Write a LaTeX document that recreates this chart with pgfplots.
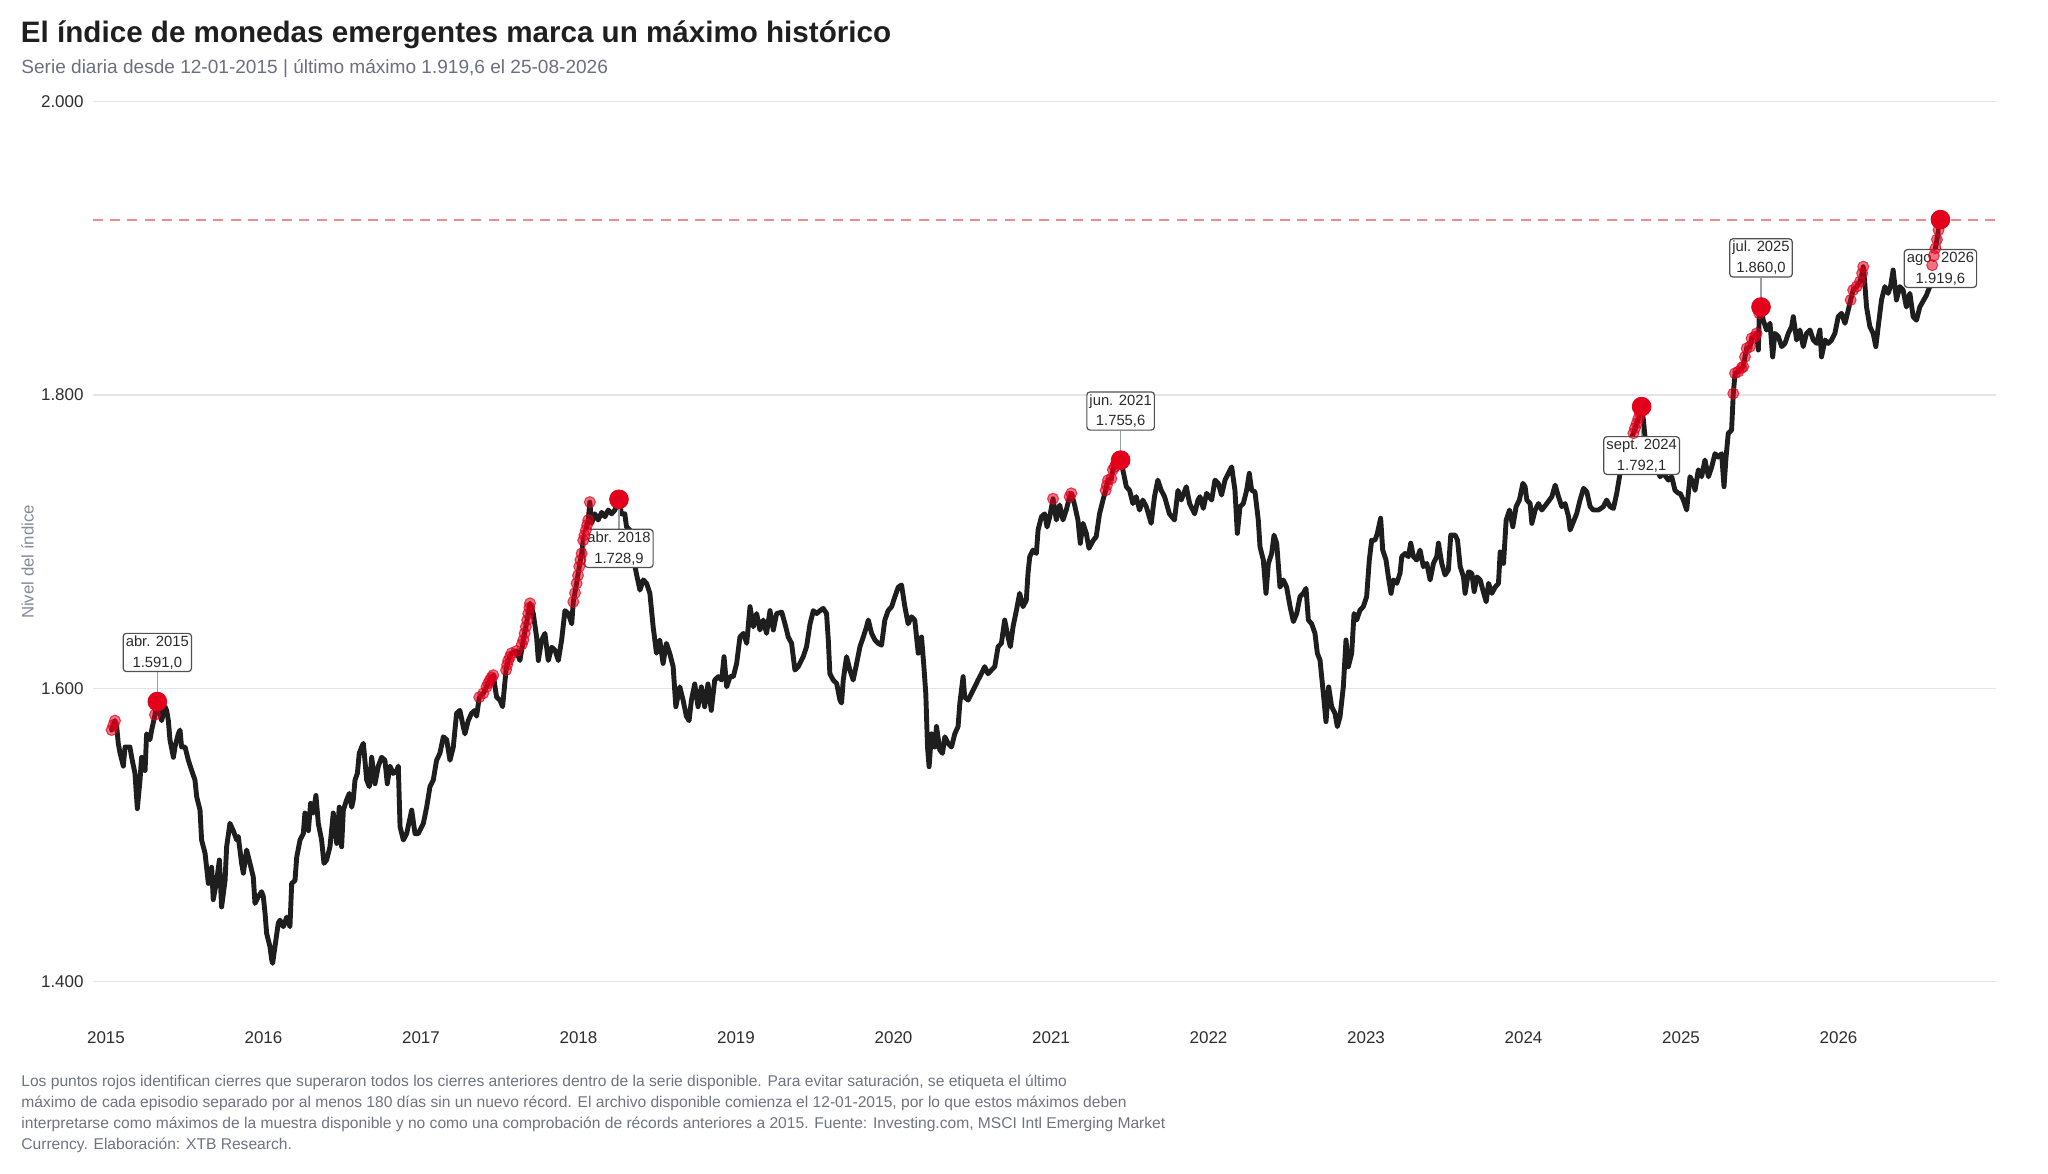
\documentclass[border=0pt]{standalone}
\usepackage{fontspec}
\setmainfont{Liberation Sans}
\usepackage{pgfplots}
\usepackage{pgfplotstable}
\pgfplotsset{compat=1.18}
\definecolor{linec}{HTML}{1E1E1E}
\definecolor{redc}{HTML}{E2001A}
\definecolor{dashc}{HTML}{F08A92}
\definecolor{gridc}{HTML}{E4E5EA}
\definecolor{titlec}{HTML}{1F1F1F}
\definecolor{subc}{HTML}{6B7080}
\definecolor{capc}{HTML}{6E7380}
\definecolor{ylabc}{HTML}{858A96}
\definecolor{tickc}{HTML}{2E2E2E}
\definecolor{boxc}{HTML}{505050}
\definecolor{connc}{HTML}{9A9EA6}
\definecolor{labc}{HTML}{2A2A2A}

\pgfplotstableread{
x y
2015.036 1571.6
2015.047 1575.0
2015.057 1578.0
2015.068 1574.0
2015.078 1562.5
2015.089 1556.0
2015.110 1547.0
2015.121 1560.0
2015.152 1560.0
2015.163 1553.0
2015.184 1542.0
2015.199 1518.0
2015.216 1537.5
2015.226 1553.0
2015.248 1544.0
2015.258 1569.0
2015.279 1565.0
2015.290 1571.6
2015.311 1582.0
2015.326 1591.0
2015.353 1578.0
2015.375 1587.5
2015.385 1585.0
2015.396 1578.0
2015.406 1565.0
2015.428 1553.0
2015.438 1560.0
2015.459 1569.0
2015.470 1571.6
2015.480 1560.0
2015.502 1560.0
2015.523 1551.0
2015.544 1544.0
2015.565 1537.5
2015.576 1526.0
2015.597 1517.0
2015.607 1496.6
2015.629 1487.5
2015.650 1467.0
2015.671 1478.0
2015.681 1456.0
2015.703 1469.0
2015.720 1483.0
2015.734 1451.0
2015.756 1469.0
2015.766 1492.0
2015.787 1508.0
2015.808 1503.0
2015.830 1496.6
2015.840 1499.0
2015.861 1480.7
2015.872 1474.0
2015.893 1489.8
2015.914 1480.7
2015.935 1471.6
2015.946 1453.4
2015.967 1458.0
2015.988 1461.4
2015.999 1458.0
2016.010 1446.6
2016.020 1433.0
2016.041 1424.0
2016.052 1415.0
2016.058 1412.5
2016.073 1424.0
2016.094 1440.0
2016.105 1442.0
2016.126 1437.5
2016.147 1444.0
2016.168 1437.5
2016.179 1467.0
2016.200 1469.0
2016.211 1485.0
2016.232 1496.6
2016.253 1501.0
2016.263 1515.0
2016.285 1503.0
2016.299 1521.6
2016.316 1515.0
2016.333 1527.0
2016.348 1508.0
2016.369 1496.6
2016.384 1480.7
2016.401 1483.0
2016.422 1492.0
2016.443 1515.0
2016.465 1494.3
2016.481 1519.0
2016.496 1492.0
2016.507 1517.0
2016.528 1524.0
2016.545 1528.4
2016.560 1519.0
2016.570 1524.0
2016.581 1537.5
2016.596 1542.0
2016.608 1555.7
2016.623 1560.0
2016.634 1562.5
2016.644 1551.0
2016.655 1537.5
2016.672 1533.0
2016.687 1553.0
2016.708 1535.0
2016.729 1547.0
2016.750 1553.0
2016.771 1551.0
2016.786 1535.0
2016.803 1547.0
2016.824 1542.0
2016.846 1544.0
2016.856 1547.0
2016.867 1505.7
2016.888 1496.6
2016.909 1501.0
2016.941 1517.0
2016.962 1501.0
2016.983 1501.0
2017.015 1508.0
2017.036 1519.0
2017.057 1533.0
2017.078 1537.5
2017.099 1551.0
2017.120 1555.7
2017.142 1567.0
2017.163 1565.0
2017.184 1551.0
2017.205 1560.0
2017.226 1583.0
2017.247 1585.0
2017.268 1574.0
2017.279 1569.0
2017.300 1578.0
2017.321 1583.0
2017.342 1585.0
2017.353 1581.0
2017.370 1594.0
2017.395 1596.6
2017.416 1601.0
2017.438 1605.7
2017.459 1609.0
2017.480 1594.0
2017.501 1592.0
2017.518 1587.5
2017.540 1612.5
2017.554 1619.0
2017.575 1624.0
2017.607 1625.5
2017.628 1619.0
2017.650 1633.0
2017.666 1642.0
2017.681 1651.0
2017.692 1658.0
2017.713 1651.0
2017.734 1635.0
2017.745 1619.0
2017.766 1633.0
2017.787 1637.5
2017.808 1619.0
2017.830 1628.0
2017.851 1626.0
2017.872 1619.0
2017.893 1633.0
2017.914 1653.0
2017.935 1651.0
2017.957 1644.0
2017.967 1659.0
2017.988 1671.6
2018.005 1683.0
2018.020 1692.0
2018.030 1701.0
2018.047 1708.0
2018.062 1714.8
2018.072 1727.0
2018.083 1712.5
2018.104 1719.0
2018.125 1714.8
2018.147 1720.0
2018.168 1717.0
2018.189 1721.6
2018.210 1719.0
2018.231 1721.6
2018.257 1728.9
2018.273 1719.0
2018.294 1719.0
2018.305 1710.0
2018.326 1708.0
2018.347 1690.0
2018.368 1678.0
2018.390 1667.0
2018.411 1674.0
2018.432 1671.6
2018.453 1665.0
2018.474 1642.0
2018.495 1624.0
2018.516 1633.0
2018.537 1617.0
2018.558 1630.7
2018.579 1624.0
2018.601 1614.8
2018.618 1587.5
2018.643 1601.0
2018.664 1592.0
2018.685 1581.0
2018.702 1578.0
2018.717 1592.0
2018.738 1603.0
2018.759 1587.5
2018.780 1601.0
2018.801 1587.5
2018.822 1603.0
2018.843 1585.0
2018.865 1605.7
2018.888 1608.0
2018.909 1605.7
2018.924 1621.6
2018.941 1601.0
2018.962 1608.0
2018.983 1608.0
2019.004 1617.0
2019.025 1635.0
2019.047 1637.5
2019.068 1630.7
2019.089 1655.7
2019.110 1642.0
2019.131 1651.0
2019.152 1639.8
2019.173 1646.6
2019.194 1637.5
2019.216 1653.0
2019.237 1639.8
2019.258 1651.0
2019.290 1652.0
2019.311 1644.0
2019.332 1635.0
2019.353 1630.7
2019.374 1612.5
2019.395 1614.8
2019.427 1621.6
2019.448 1628.4
2019.470 1644.0
2019.491 1653.0
2019.512 1651.0
2019.533 1653.0
2019.554 1654.5
2019.575 1651.0
2019.586 1633.0
2019.596 1610.0
2019.617 1605.7
2019.639 1603.4
2019.660 1592.0
2019.670 1590.0
2019.681 1605.7
2019.702 1621.6
2019.723 1612.5
2019.744 1605.7
2019.766 1617.0
2019.787 1628.4
2019.808 1635.0
2019.829 1642.0
2019.840 1646.6
2019.861 1637.5
2019.882 1633.0
2019.903 1630.7
2019.924 1629.5
2019.945 1646.6
2019.966 1653.0
2019.988 1655.7
2020.009 1662.5
2020.030 1669.0
2020.051 1670.5
2020.072 1655.7
2020.093 1644.0
2020.114 1648.8
2020.135 1646.6
2020.157 1624.0
2020.178 1635.0
2020.193 1614.8
2020.205 1596.6
2020.216 1560.0
2020.226 1546.6
2020.241 1569.0
2020.262 1560.0
2020.273 1574.0
2020.294 1558.0
2020.311 1555.7
2020.326 1567.0
2020.347 1562.5
2020.368 1560.0
2020.389 1569.0
2020.410 1574.0
2020.421 1589.8
2020.442 1608.0
2020.452 1594.0
2020.474 1592.0
2020.495 1596.6
2020.516 1601.0
2020.537 1605.7
2020.558 1610.0
2020.579 1614.8
2020.600 1610.0
2020.622 1612.5
2020.643 1614.8
2020.664 1628.4
2020.685 1630.7
2020.706 1646.6
2020.727 1635.0
2020.742 1628.4
2020.759 1642.0
2020.780 1653.0
2020.801 1664.8
2020.822 1655.7
2020.843 1660.0
2020.854 1678.4
2020.865 1689.8
2020.886 1694.3
2020.907 1692.0
2020.918 1708.0
2020.939 1717.0
2020.960 1719.0
2020.975 1710.0
2020.992 1717.0
2021.013 1729.3
2021.034 1714.8
2021.055 1725.0
2021.076 1714.8
2021.097 1721.6
2021.118 1730.7
2021.129 1733.0
2021.150 1725.0
2021.171 1714.8
2021.186 1698.9
2021.203 1712.5
2021.224 1705.7
2021.241 1695.5
2021.269 1701.0
2021.287 1703.4
2021.308 1719.0
2021.330 1728.4
2021.347 1735.0
2021.362 1742.0
2021.383 1743.0
2021.393 1749.0
2021.414 1753.4
2021.442 1755.6
2021.461 1746.6
2021.478 1737.5
2021.499 1735.0
2021.520 1726.0
2021.541 1730.7
2021.562 1721.6
2021.583 1728.4
2021.605 1723.9
2021.636 1712.5
2021.657 1730.7
2021.678 1742.0
2021.700 1735.0
2021.721 1730.7
2021.752 1719.0
2021.784 1714.8
2021.806 1735.0
2021.827 1728.4
2021.859 1737.5
2021.880 1726.0
2021.912 1719.0
2021.933 1728.4
2021.946 1730.7
2021.967 1722.7
2021.988 1733.0
2022.020 1728.4
2022.041 1742.0
2022.062 1739.8
2022.083 1731.8
2022.105 1742.0
2022.126 1746.6
2022.147 1751.0
2022.168 1735.0
2022.183 1705.7
2022.200 1723.9
2022.221 1726.0
2022.242 1735.0
2022.259 1746.6
2022.274 1735.0
2022.295 1734.0
2022.316 1714.8
2022.327 1696.6
2022.348 1687.5
2022.365 1664.8
2022.380 1685.0
2022.401 1692.0
2022.416 1704.5
2022.433 1699.0
2022.454 1669.0
2022.475 1673.9
2022.496 1669.0
2022.518 1655.7
2022.539 1645.5
2022.560 1651.0
2022.581 1662.5
2022.602 1664.8
2022.619 1668.2
2022.634 1646.6
2022.655 1644.0
2022.676 1637.5
2022.691 1623.9
2022.708 1619.3
2022.729 1596.6
2022.746 1577.3
2022.763 1601.0
2022.782 1587.5
2022.803 1583.0
2022.818 1573.9
2022.835 1580.7
2022.856 1601.0
2022.873 1633.0
2022.888 1614.8
2022.909 1623.9
2022.924 1651.0
2022.941 1646.6
2022.962 1653.4
2022.983 1655.7
2023.004 1662.5
2023.021 1687.5
2023.036 1701.0
2023.057 1701.0
2023.072 1705.7
2023.093 1716.0
2023.106 1694.3
2023.127 1687.5
2023.142 1676.0
2023.159 1664.8
2023.174 1673.9
2023.195 1671.6
2023.216 1678.4
2023.227 1689.8
2023.248 1692.0
2023.269 1689.8
2023.284 1699.0
2023.301 1689.8
2023.322 1687.5
2023.343 1694.3
2023.364 1683.0
2023.386 1685.2
2023.407 1673.9
2023.428 1685.2
2023.449 1689.8
2023.460 1699.0
2023.481 1685.2
2023.502 1677.3
2023.523 1680.7
2023.538 1704.5
2023.566 1704.5
2023.581 1701.0
2023.598 1683.0
2023.619 1676.0
2023.629 1664.8
2023.651 1679.5
2023.672 1678.4
2023.687 1666.0
2023.704 1676.0
2023.725 1673.9
2023.742 1667.0
2023.763 1659.0
2023.778 1671.6
2023.799 1664.8
2023.820 1669.0
2023.841 1671.6
2023.852 1693.0
2023.873 1685.2
2023.890 1714.8
2023.911 1721.6
2023.932 1710.2
2023.953 1723.9
2023.974 1728.4
2023.996 1739.8
2024.010 1737.5
2024.021 1728.4
2024.042 1726.0
2024.053 1712.5
2024.074 1721.6
2024.095 1726.0
2024.116 1721.6
2024.148 1726.0
2024.180 1730.7
2024.201 1738.6
2024.222 1730.7
2024.243 1723.9
2024.264 1726.0
2024.286 1717.0
2024.296 1708.0
2024.317 1713.6
2024.338 1719.3
2024.359 1728.4
2024.381 1736.4
2024.402 1734.0
2024.423 1723.9
2024.444 1721.6
2024.476 1721.6
2024.507 1723.9
2024.528 1728.4
2024.549 1723.9
2024.571 1722.7
2024.592 1733.0
2024.613 1746.6
2024.634 1755.7
2024.666 1764.8
2024.698 1774.0
2024.719 1780.7
2024.740 1787.5
2024.750 1792.1
2024.761 1783.0
2024.782 1760.0
2024.803 1753.4
2024.835 1753.4
2024.867 1744.3
2024.888 1746.6
2024.920 1742.0
2024.941 1744.3
2024.962 1735.0
2024.983 1733.0
2024.994 1733.0
2025.015 1728.4
2025.036 1721.6
2025.057 1744.3
2025.079 1739.8
2025.089 1735.0
2025.110 1749.0
2025.131 1744.3
2025.152 1755.7
2025.174 1744.3
2025.195 1751.0
2025.216 1760.0
2025.237 1757.7
2025.258 1760.0
2025.273 1737.5
2025.286 1757.7
2025.300 1773.9
2025.321 1776.0
2025.332 1801.0
2025.343 1814.8
2025.364 1816.0
2025.385 1818.5
2025.395 1819.3
2025.406 1826.0
2025.417 1831.8
2025.438 1833.0
2025.448 1838.6
2025.470 1839.8
2025.480 1842.0
2025.491 1830.7
2025.497 1855.7
2025.508 1860.0
2025.522 1851.0
2025.543 1844.3
2025.565 1848.9
2025.582 1826.0
2025.596 1842.0
2025.618 1839.8
2025.639 1833.0
2025.660 1835.2
2025.681 1842.0
2025.702 1846.6
2025.713 1853.4
2025.734 1837.5
2025.755 1844.3
2025.776 1833.0
2025.797 1842.0
2025.819 1844.3
2025.840 1837.5
2025.861 1835.2
2025.882 1844.3
2025.892 1826.0
2025.914 1837.5
2025.935 1835.2
2025.956 1837.5
2025.977 1842.0
2025.998 1853.4
2026.019 1855.7
2026.041 1848.9
2026.062 1858.0
2026.077 1864.8
2026.093 1871.6
2026.115 1873.9
2026.136 1877.3
2026.150 1883.0
2026.157 1887.5
2026.167 1876.0
2026.178 1860.0
2026.199 1846.6
2026.220 1842.0
2026.237 1833.0
2026.252 1846.6
2026.273 1864.8
2026.294 1873.9
2026.315 1869.3
2026.330 1873.9
2026.347 1885.2
2026.368 1864.8
2026.389 1873.9
2026.410 1871.6
2026.431 1860.0
2026.453 1869.3
2026.474 1853.4
2026.495 1851.0
2026.516 1860.0
2026.537 1864.0
2026.558 1868.0
2026.579 1873.8
2026.595 1888.5
2026.605 1895.0
2026.615 1900.0
2026.625 1906.0
2026.635 1912.5
2026.647 1919.6
}\mainline

\pgfplotstableread{
x y
2015.036 1571.6
2015.047 1575.0
2015.057 1578.0
2015.311 1582.0
2017.370 1594.0
2017.395 1596.6
2017.416 1601.0
2017.427 1603.5
2017.438 1605.7
2017.448 1607.5
2017.459 1609.0
2017.540 1612.5
2017.547 1616.0
2017.554 1619.0
2017.565 1621.5
2017.575 1624.0
2017.607 1625.5
2017.640 1630.0
2017.650 1633.0
2017.658 1637.5
2017.666 1642.0
2017.674 1646.5
2017.681 1651.0
2017.688 1655.0
2017.692 1658.0
2017.967 1659.0
2017.978 1665.0
2017.988 1671.6
2017.997 1677.0
2018.005 1683.0
2018.012 1687.5
2018.020 1692.0
2018.030 1701.0
2018.038 1704.5
2018.047 1708.0
2018.055 1711.5
2018.062 1714.8
2018.072 1727.0
2021.013 1729.3
2021.118 1730.7
2021.129 1733.0
2021.347 1735.0
2021.355 1738.5
2021.362 1742.0
2021.383 1743.0
2021.393 1749.0
2021.404 1751.0
2021.414 1753.4
2024.698 1774.0
2024.708 1777.5
2024.719 1780.7
2024.729 1784.0
2024.740 1787.5
2025.332 1801.0
2025.343 1814.8
2025.364 1816.0
2025.385 1818.5
2025.395 1819.3
2025.406 1826.0
2025.417 1831.8
2025.438 1833.0
2025.448 1838.6
2025.470 1839.8
2025.480 1842.0
2025.497 1855.7
2026.077 1864.8
2026.093 1871.6
2026.115 1873.9
2026.136 1877.3
2026.150 1883.0
2026.157 1887.5
2026.595 1888.5
2026.605 1895.0
2026.615 1900.0
2026.625 1906.0
2026.635 1912.5
}\records

\pgfplotstableread{
x y
2015.326 1591.0
2018.257 1728.9
2021.442 1755.6
2024.750 1792.1
2025.508 1860.0
2026.647 1919.6
}\peaks

\tikzset{lbl/.style={draw=boxc, fill=white, rounded corners=1.6bp, line width=0.6bp,
  align=center, font=\fontsize{7.4bp}{10.4bp}\selectfont, text=labc,
  inner xsep=1.3bp, inner ysep=1.2bp}}

\begin{document}
\begin{tikzpicture}
\path[use as bounding box] (0,0) rectangle (1024bp,587bp);
\begin{axis}[
  at={(46.5bp,88.8bp)}, anchor=south west,
  scale only axis, width=951.5bp, height=454.7bp,
  xmin=-0.0825, xmax=12.0, ymin=1390, ymax=2010,
  axis line style={draw=none},
  tick style={draw=none},
  xtick={0,1,2,3,4,5,6,7,8,9,10,11},
  xticklabels={2015,2016,2017,2018,2019,2020,2021,2022,2023,2024,2025,2026},
  ytick={1400,1600,1800,2000},
  yticklabels={1.400,1.600,1.800,2.000},
  ymajorgrids, grid style={draw=gridc, line width=0.75bp},
  tick label style={font=\fontsize{8.5bp}{10bp}\selectfont, text=tickc},
  xticklabel style={anchor=north, inner sep=0pt, yshift=-17.65bp},
  yticklabel style={anchor=east, inner sep=0pt, xshift=-4.5bp},
  clip=false,
]
\addplot[dashc, line width=1bp, dash pattern=on 5bp off 3.6bp] coordinates {(-0.0825,1919.6) (12.0,1919.6)};
\addplot[linec, line width=2.45bp, line join=round, line cap=round] table[x expr=\thisrow{x}-2015, y=y] {\mainline};
\addplot[only marks, mark=*, mark size=2.75bp, mark options={fill=redc, draw=redc, fill opacity=0.55, draw opacity=0.7, line width=0.5bp}] table[x expr=\thisrow{x}-2015, y=y] {\records};
\draw[connc, line width=0.8bp] (axis cs:0.326,1591.0) -- ++(0pt,14.7bp);
\draw[connc, line width=0.8bp] (axis cs:3.257,1728.9) -- ++(0pt,-14.7bp);
\draw[connc, line width=0.8bp] (axis cs:6.442,1755.6) -- ++(0pt,14.7bp);
\draw[connc, line width=0.8bp] (axis cs:9.750,1792.1) -- ++(0pt,-14.7bp);
\draw[connc, line width=0.8bp] (axis cs:10.508,1860.0) -- ++(0pt,14.7bp);
\draw[connc, line width=0.8bp] (axis cs:11.647,1919.6) -- ++(0pt,-14.7bp);
\addplot[only marks, mark=*, mark size=4.7bp, mark options={fill=redc, draw=redc}] table[x expr=\thisrow{x}-2015, y=y] {\peaks};
\node[lbl, anchor=south, yshift=14.7bp] at (axis cs:0.326,1591.0) {abr. 2015\\1.591,0};
\node[lbl, anchor=north, yshift=-14.7bp] at (axis cs:3.257,1728.9) {abr. 2018\\1.728,9};
\node[lbl, anchor=south, yshift=14.7bp] at (axis cs:6.442,1755.6) {jun. 2021\\1.755,6};
\node[lbl, anchor=north, yshift=-14.7bp] at (axis cs:9.750,1792.1) {sept. 2024\\1.792,1};
\node[lbl, anchor=south, yshift=14.7bp] at (axis cs:10.508,1860.0) {jul. 2025\\1.860,0};
\node[lbl, anchor=north, yshift=-14.7bp] at (axis cs:11.647,1919.6) {ago. 2026\\1.919,6};
\end{axis}
\node[anchor=base west, inner sep=0pt, font=\fontsize{14.8bp}{17bp}\selectfont\bfseries, text=titlec] at (10.3bp,565.6bp) {El índice de monedas emergentes marca un máximo histórico};
\node[anchor=base west, inner sep=0pt, font=\fontsize{9.53bp}{11bp}\selectfont, text=subc] at (10.5bp,550.3bp) {Serie diaria desde 12-01-2015 | último máximo 1.919,6 el 25-08-2026};
\node[rotate=90, anchor=center, inner sep=0pt, font=\fontsize{8.4bp}{10bp}\selectfont, text=ylabc] at (13.7bp,306bp) {Nivel del índice};
\begin{scope}[every node/.style={anchor=base west, inner sep=0pt, font=\fontsize{7.8bp}{9.5bp}\selectfont, text=capc}]
\node at (10.5bp,43.9bp) {Los puntos rojos identifican cierres que superaron todos los cierres anteriores dentro de la serie disponible. Para evitar saturación, se etiqueta el último};
\node at (10.5bp,33.4bp) {máximo de cada episodio separado por al menos 180 días sin un nuevo récord. El archivo disponible comienza el 12-01-2015, por lo que estos máximos deben};
\node at (10.5bp,22.9bp) {interpretarse como máximos de la muestra disponible y no como una comprobación de récords anteriores a 2015. Fuente: Investing.com, MSCI Intl Emerging Market};
\node at (10.5bp,12.4bp) {Currency. Elaboración: XTB Research.};
\end{scope}
\end{tikzpicture}
\end{document}
